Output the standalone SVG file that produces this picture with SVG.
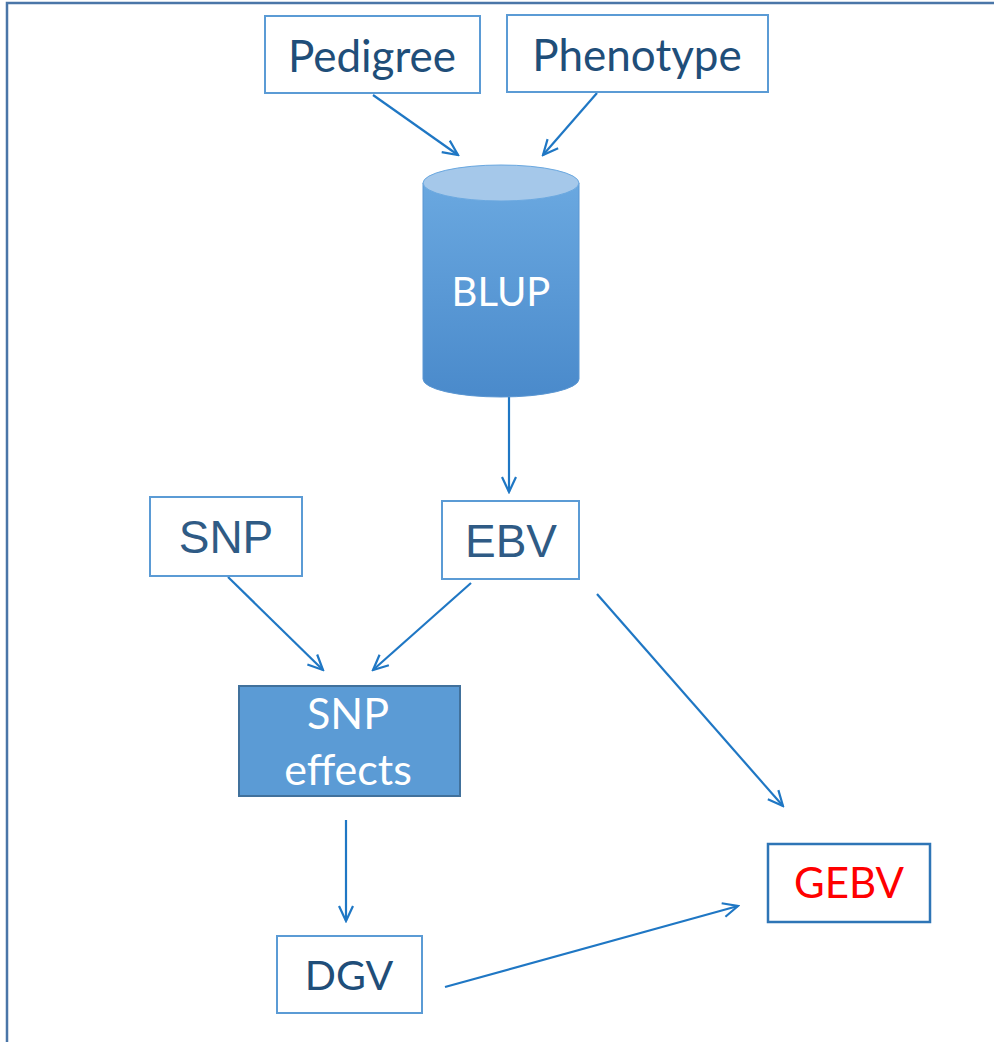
<svg xmlns="http://www.w3.org/2000/svg" width="994" height="1042" viewBox="0 0 994 1042">
<style>
.box{fill:#ffffff;stroke:#5b9bd5;stroke-width:2}
.lbl{font-family:Lato,"Open Sans",sans-serif;fill:#1f4e79;text-anchor:middle}
.arl{font-family:"Liberation Sans",Arial,sans-serif;fill:#2f5b85;text-anchor:middle}
.wht{font-family:Lato,"Open Sans",sans-serif;fill:#ffffff;text-anchor:middle}
.conn{stroke:#1f77c4;stroke-width:2.2;fill:none;marker-end:url(#arr)}
</style>
<defs>
<marker id="arr" viewBox="0 0 20 20" refX="18" refY="10" markerWidth="20" markerHeight="20" markerUnits="userSpaceOnUse" orient="auto">
<path d="M3,3 L18,10 L3,17" fill="none" stroke="#1f77c4" stroke-width="2.2"/>
</marker>
<linearGradient id="cyl" x1="0" y1="0" x2="0" y2="1">
<stop offset="0" stop-color="#6aa8e0"/>
<stop offset="1" stop-color="#4a8acb"/>
</linearGradient>
</defs>
<rect x="0" y="0" width="994" height="1042" fill="#ffffff"/>
<rect x="7" y="3" width="1010" height="1060" fill="none" stroke="#4a76a8" stroke-width="2.5"/>

<g id="connectors">
<line class="conn" x1="373" y1="95" x2="458" y2="155"/>
<line class="conn" x1="597" y1="93" x2="543" y2="155"/>
<line class="conn" x1="509" y1="397" x2="509" y2="492"/>
<line class="conn" x1="228" y1="577" x2="323" y2="670"/>
<line class="conn" x1="471" y1="583" x2="373" y2="670"/>
<line class="conn" x1="597" y1="594" x2="783" y2="806"/>
<line class="conn" x1="346" y1="820" x2="346" y2="921"/>
<line class="conn" x1="445" y1="987" x2="738" y2="906"/>
</g>

<g id="pedigree">
<rect class="box" x="265" y="16" width="215" height="77"/>
<text class="lbl" x="372" y="72" font-size="44">Pedigree</text>
</g>
<g id="phenotype">
<rect class="box" x="507" y="15" width="261" height="77"/>
<text class="lbl" x="637" y="71" font-size="44">Phenotype</text>
</g>
<g id="blup">
<path d="M423,183 L423,379 A78,18 0 0 0 579,379 L579,183 Z" fill="url(#cyl)" stroke="#5a96d2" stroke-width="1"/>
<ellipse cx="501" cy="183" rx="78" ry="18" fill="#a5c8ea" stroke="#6aa8e0" stroke-width="1"/>
<text class="wht" x="501" y="306" font-size="40">BLUP</text>
</g>
<g id="snp">
<rect class="box" x="150" y="497" width="152" height="79"/>
<text class="arl" x="226" y="553" font-size="46">SNP</text>
</g>
<g id="ebv">
<rect class="box" x="442" y="501" width="137" height="78"/>
<text class="arl" x="511" y="557" font-size="46">EBV</text>
</g>
<g id="snp-effects">
<rect x="239" y="686" width="221" height="110" fill="#5b9bd5" stroke="#41719c" stroke-width="2"/>
<text class="wht" x="348" y="729" font-size="43">SNP</text>
<text class="wht" x="348" y="785" font-size="43">effects</text>
</g>
<g id="dgv">
<rect class="box" x="277" y="936" width="145" height="77"/>
<text class="lbl" x="349" y="990" font-size="41">DGV</text>
</g>
<g id="gebv">
<rect x="768" y="844" width="162" height="78" fill="#ffffff" stroke="#2e75b6" stroke-width="2.5"/>
<text class="lbl" x="849" y="898" font-size="42" style="fill:#ff0000">GEBV</text>
</g>
</svg>
